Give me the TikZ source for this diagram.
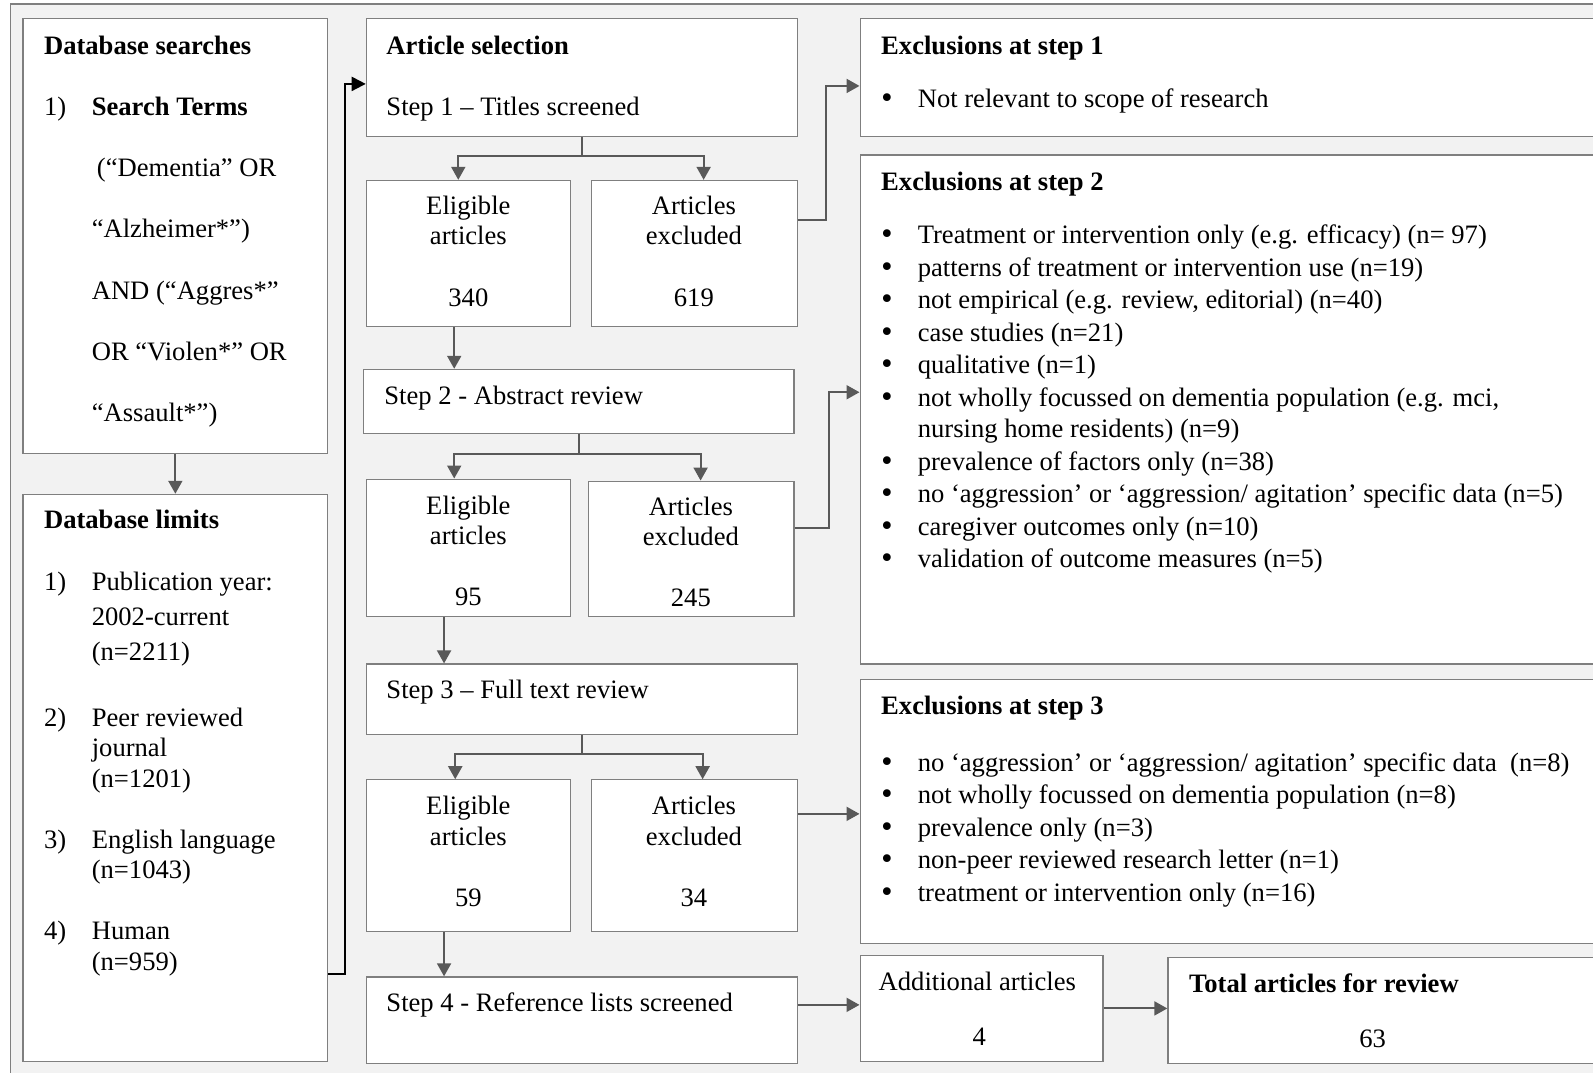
\documentclass[tikz,border=0pt]{standalone}
\usepackage{fontspec}
\setmainfont{Liberation Serif}
\newfontfamily\puntifont{DejaVu Sans}
\usetikzlibrary{arrows.meta, positioning}
\definecolor{sfondo}{HTML}{F2F2F2}
\definecolor{bordo}{HTML}{7F7F7F}
\definecolor{freccia}{HTML}{595959}
\newcommand{\unita}{0.508pt}
\tikzset{
  box/.style={draw=bordo, fill=white, line width=0.6pt, anchor=north west, inner sep=0pt},
  txt/.style={anchor=base west, inner sep=0pt, yshift=-1pt, font=\fontsize{13.3}{16}\selectfont},
  txtb/.style={txt, font=\fontsize{13.3}{16}\selectfont\bfseries},
  txtc/.style={txt, anchor=base},
  pallino/.style={txtc, font=\fontsize{13.3}{16}\puntifont},
  arr/.style={draw=freccia, line width=1pt, -{Triangle[length=6.5pt,width=7pt]}},
  ln/.style={draw=freccia, line width=1pt},
  blk/.style={draw=black, line width=1pt, -{Triangle[length=7pt,width=7pt]}},
}
\begin{document}
\begin{tikzpicture}[x=0.508pt, y=-0.508pt]
        \useasboundingbox (0,0) rectangle (1568,1056);
        \clip (0,0) rectangle (1568,1056);
        % Sfondo
        \draw[draw=bordo, fill=sfondo, line width=0.6pt] (10,4) rectangle (1600,1080);

        % Riquadri
        \node[box, minimum width=300*\unita, minimum height=428*\unita] (dbs) at (22,18) {};
        \node[box, minimum width=300*\unita, minimum height=558*\unita] (dbl) at (22,486) {};
        \node[box, minimum width=424*\unita, minimum height=116*\unita] (sel) at (360,18) {};
        \node[box, minimum width=201*\unita, minimum height=144*\unita] (elig1) at (360,177) {};
        \node[box, minimum width=202*\unita, minimum height=144*\unita] (excl1) at (582,177) {};
        \node[box, minimum width=424*\unita, minimum height=63*\unita] (step2) at (357,363) {};
        \node[box, minimum width=201*\unita, minimum height=135*\unita] (elig2) at (360,471) {};
        \node[box, minimum width=202*\unita, minimum height=133*\unita] (excl2) at (579,473) {};
        \node[box, minimum width=424*\unita, minimum height=69*\unita] (step3) at (360,653) {};
        \node[box, minimum width=201*\unita, minimum height=149*\unita] (elig3) at (360,767) {};
        \node[box, minimum width=202*\unita, minimum height=149*\unita] (excl3) at (582,767) {};
        \node[box, minimum width=424*\unita, minimum height=85*\unita] (step4) at (360,961) {};
        \node[box, minimum width=800*\unita, minimum height=116*\unita] (ex1) at (846,18) {};
        \node[box, minimum width=800*\unita, minimum height=501*\unita] (ex2) at (846,152) {};
        \node[box, minimum width=800*\unita, minimum height=260*\unita] (ex3) at (846,668) {};
        \node[box, minimum width=239*\unita, minimum height=104*\unita] (add) at (846,940) {};
        \node[box, minimum width=500*\unita, minimum height=104*\unita] (tot) at (1149,942) {};

        % Frecce
        \draw[arr] (dbs.south) -- (dbl.north);
        \draw[blk] ([yshift=-193*\unita]dbl.east) -- ++(16,0) |- ([yshift=-6*\unita]sel.west);

        \draw[ln] (sel.south) -- ++(0,18) coordinate (j1);
        \draw[arr] (j1) -| ([xshift=-10*\unita]elig1.north);
        \draw[arr] (j1) -| ([xshift=9*\unita]excl1.north);
        \draw[arr] ([yshift=33*\unita]excl1.east) -- ++(28,0) |- ([yshift=-8*\unita]ex1.west);
        \coordinate (a1) at ([xshift=-14*\unita]elig1.south);
        \draw[arr] (a1) -- (a1 |- step2.north);

        \draw[ln] (step2.south) -- ++(0,20) coordinate (j2);
        \draw[arr] (j2) -| ([xshift=-14*\unita]elig2.north);
        \draw[arr] (j2) -| ([xshift=9*\unita]excl2.north);
        \draw[arr] ([yshift=20*\unita]excl2.east) -- ++(34,0) |- ([yshift=17*\unita]ex2.west);
        \coordinate (a2) at ([xshift=-24*\unita]elig2.south);
        \draw[arr] (a2) -- (a2 |- step3.north);

        \draw[ln] (step3.south) -- ++(0,19) coordinate (j3);
        \draw[arr] (j3) -| ([xshift=-13*\unita]elig3.north);
        \draw[arr] (j3) -| ([xshift=8*\unita]excl3.north);
        \coordinate (a3) at ([yshift=41*\unita]excl3.east);
        \draw[arr] (a3) -- (a3 -| ex3.west);
        \coordinate (a4) at ([xshift=-24*\unita]elig3.south);
        \draw[arr] (a4) -- (a4 |- step4.north);

        \coordinate (a5) at ([yshift=15*\unita]step4.east);
        \draw[arr] (a5) -- (a5 -| add.west);
        \draw[arr] (add.east) -- (add.east -| tot.west);

        % Testi: ricerche
        \node[txtb] (dbsT) at (43,52) {Database searches};
        \node[txt] (dbsN1) at (43,112) {1)};
        \node[txtb] (dbsK) at (90,112) {Search Terms};
        \node[txt] (dbsL1) at (95,172) {(“Dementia” OR};
        \node[txt] (dbsL2) at (90,232) {“Alzheimer*”)};
        \node[txt] (dbsL3) at (90,293) {AND (“Aggres*”};
        \node[txt] (dbsL4) at (90,353) {OR “Violen*” OR};
        \node[txt] (dbsL5) at (90,413) {“Assault*”)};

        % Testi: limiti
        \node[txtb] (dblT) at (43,518) {Database limits};
        \node[txt] (dblN1) at (43,579) {1)};
        \node[txt] (dblA1) at (90,579) {Publication year:};
        \node[txt] (dblA2) at (90,614) {2002-current};
        \node[txt] (dblA3) at (90,648) {(n=2211)};
        \node[txt] (dblN2) at (43,713) {2)};
        \node[txt] (dblB1) at (90,713) {Peer reviewed};
        \node[txt] (dblB2) at (90,743) {journal};
        \node[txt] (dblB3) at (90,773) {(n=1201)};
        \node[txt] (dblN3) at (43,833) {3)};
        \node[txt] (dblC1) at (90,833) {English language};
        \node[txt] (dblC2) at (90,863) {(n=1043)};
        \node[txt] (dblN4) at (43,923) {4)};
        \node[txt] (dblD1) at (90,923) {Human};
        \node[txt] (dblD2) at (90,953) {(n=959)};

        % Testi: selezione
        \node[txtb] (selT) at (380,52) {Article selection};
        \node[txt] (selS) at (380,112) {Step 1 – Titles screened};
        \node[txtc] (elig1a) at (461,209) {Eligible};
        \node[txtc] (elig1b) at (461,239) {articles};
        \node[txtc] (elig1n) at (461,300) {340};
        \node[txtc] (excl1a) at (683,209) {Articles};
        \node[txtc] (excl1b) at (683,239) {excluded};
        \node[txtc] (excl1n) at (683,300) {619};
        \node[txt] (step2T) at (378,396) {Step 2 - Abstract review};
        \node[txtc] (elig2a) at (461,504) {Eligible};
        \node[txtc] (elig2b) at (461,534) {articles};
        \node[txtc] (elig2n) at (461,594) {95};
        \node[txtc] (excl2a) at (680,505) {Articles};
        \node[txtc] (excl2b) at (680,535) {excluded};
        \node[txtc] (excl2n) at (680,595) {245};
        \node[txt] (step3T) at (380,686) {Step 3 – Full text review};
        \node[txtc] (elig3a) at (461,800) {Eligible};
        \node[txtc] (elig3b) at (461,830) {articles};
        \node[txtc] (elig3n) at (461,890) {59};
        \node[txtc] (excl3a) at (683,800) {Articles};
        \node[txtc] (excl3b) at (683,830) {excluded};
        \node[txtc] (excl3n) at (683,890) {34};
        \node[txt] (step4T) at (380,994) {Step 4 - Reference lists screened};

        % Testi: esclusioni
        \node[txtb] (ex1T) at (867,52) {Exclusions at step 1};
        \node[pallino] (ex1b1) at (873,104) {•};
        \node[txt] (ex1t1) at (903,104) {Not relevant to scope of research};

        \node[txtb] (ex2T) at (867,186) {Exclusions at step 2};
        \node[pallino] (ex2b1) at (873,238) {•};
        \node[txt] (ex2t1) at (903,238) {Treatment or intervention only (e.g. efficacy) (n= 97)};
        \node[pallino] (ex2b2) at (873,270) {•};
        \node[txt] (ex2t2) at (903,270) {patterns of treatment or intervention use (n=19)};
        \node[pallino] (ex2b3) at (873,302) {•};
        \node[txt] (ex2t3) at (903,302) {not empirical (e.g. review, editorial) (n=40)};
        \node[pallino] (ex2b4) at (873,334) {•};
        \node[txt] (ex2t4) at (903,334) {case studies (n=21)};
        \node[pallino] (ex2b5) at (873,366) {•};
        \node[txt] (ex2t5) at (903,366) {qualitative (n=1)};
        \node[pallino] (ex2b6) at (873,398) {•};
        \node[txt] (ex2t6) at (903,398) {not wholly focussed on dementia population (e.g. mci,};
        \node[txt] (ex2t6b) at (903,429) {nursing home residents) (n=9)};
        \node[pallino] (ex2b7) at (873,461) {•};
        \node[txt] (ex2t7) at (903,461) {prevalence of factors only (n=38)};
        \node[pallino] (ex2b8) at (873,493) {•};
        \node[txt] (ex2t8) at (903,493) {no ‘aggression’ or ‘aggression/ agitation’ specific data (n=5)};
        \node[pallino] (ex2b9) at (873,525) {•};
        \node[txt] (ex2t9) at (903,525) {caregiver outcomes only (n=10)};
        \node[pallino] (ex2b10) at (873,557) {•};
        \node[txt] (ex2t10) at (903,557) {validation of outcome measures (n=5)};

        \node[txtb] (ex3T) at (867,701) {Exclusions at step 3};
        \node[pallino] (ex3b1) at (873,757) {•};
        \node[txt] (ex3t1) at (903,757) {no ‘aggression’ or ‘aggression/ agitation’ specific data~ (n=8)};
        \node[pallino] (ex3b2) at (873,789) {•};
        \node[txt] (ex3t2) at (903,789) {not wholly focussed on dementia population (n=8)};
        \node[pallino] (ex3b3) at (873,821) {•};
        \node[txt] (ex3t3) at (903,821) {prevalence only (n=3)};
        \node[pallino] (ex3b4) at (873,853) {•};
        \node[txt] (ex3t4) at (903,853) {non-peer reviewed research letter (n=1)};
        \node[pallino] (ex3b5) at (873,885) {•};
        \node[txt] (ex3t5) at (903,885) {treatment or intervention only (n=16)};

        % Testi: totali
        \node[txtc] (addT) at (962,973) {Additional articles};
        \node[txtc] (addN) at (964,1027) {4};
        \node[txtb] (totT) at (1170,975) {Total articles for review};
        \node[txtc] (totN) at (1351,1029) {63};
\end{tikzpicture}
\end{document}
